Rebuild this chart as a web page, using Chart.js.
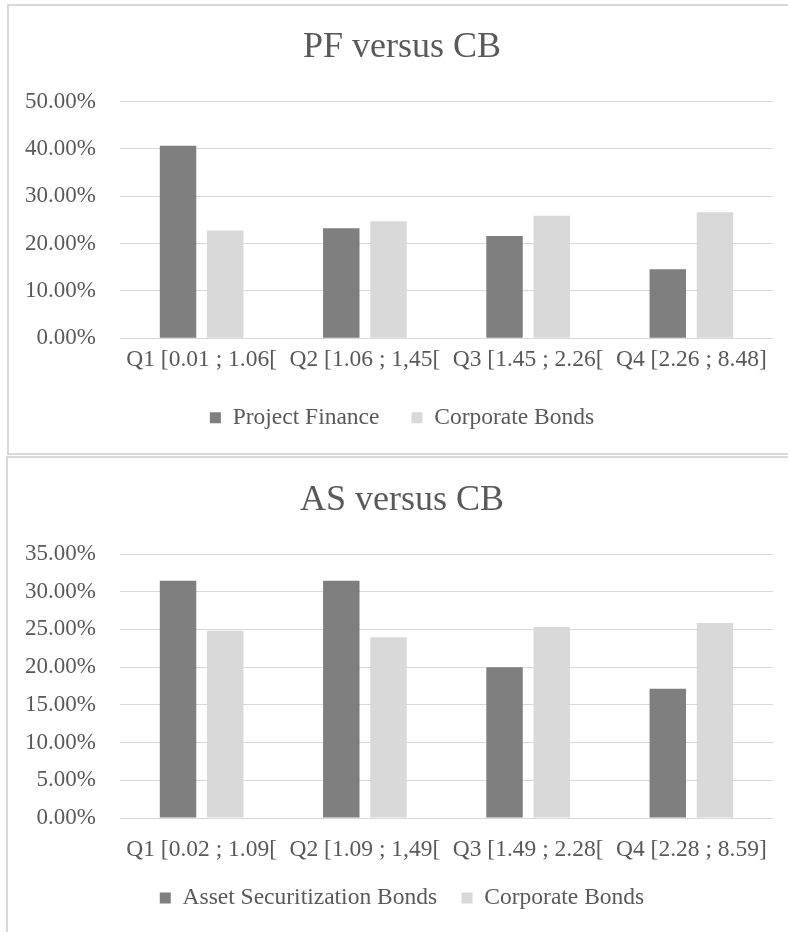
<!DOCTYPE html>
<html>
<head>
<meta charset="utf-8">
<script src="https://cdn.jsdelivr.net/npm/chart.js@4.4.1/dist/chart.umd.min.js"></script>
<style>
    html, body { margin: 0; padding: 0; background: #fff; overflow: hidden; }
    body { width: 788px; height: 932px; position: relative; }
    .frame { position: absolute; border: 2px solid #d9d9d9; box-sizing: border-box; }
    .box { position: absolute; left: 0; width: 804px; }
</style>
</head>
<body>
<div class="frame" style="left:7px; top:4px; width:800px; height:451px;"></div>
<div class="frame" style="left:6px; top:456px; width:800px; height:500px;"></div>
<div class="box" style="top:0; height:455px;"><canvas id="pfChart"></canvas></div>
<div class="box" style="top:455px; height:477px;"><canvas id="asChart"></canvas></div>
<script>
// data (percent)
const pfLabels = ['Q1 [0.01 ; 1.06[', 'Q2 [1.06 ; 1,45[', 'Q3 [1.45 ; 2.26[', 'Q4 [2.26 ; 8.48]'];
const pfProject = [40.66, 23.25, 21.6, 14.6];
const pfCorporate = [22.75, 24.7, 25.9, 26.6];
const pfTicks = { max: 50, step: 10 };

const asLabels = ['Q1 [0.02 ; 1.09[', 'Q2 [1.09 ; 1,49[', 'Q3 [1.49 ; 2.28[', 'Q4 [2.28 ; 8.59]'];
const asSecuritization = [31.47, 31.47, 19.99, 17.15];
const asCorporate = [24.84, 23.97, 25.33, 25.86];
const asTicks = { max: 35, step: 5 };

const FONT = "'Liberation Serif', 'Times New Roman', serif";
const TEXT = '#595959';
const DARK = '#7f7f7f';
const LIGHT = '#d9d9d9';

function makeChart(id, title, labels, names, series, ticks, lay) {
    const ctx = document.getElementById(id).getContext('2d');
    return new Chart(ctx, {
        type: 'bar',
        data: {
            labels: labels,
            datasets: [
                { label: names[0], data: series[0], backgroundColor: DARK, borderWidth: 0 },
                { label: names[1], data: series[1], backgroundColor: LIGHT, borderWidth: 0 }
            ]
        },
        options: {
            responsive: true,
            maintainAspectRatio: false,
            animation: false,
            categoryPercentage: 0.578,
            barPercentage: 0.773,
            layout: { padding: { left: 0, right: 0, top: 0, bottom: lay.bottom } },
            plugins: {
                title: {
                    display: true,
                    text: title,
                    color: TEXT,
                    font: { family: FONT, size: 36, weight: 'normal', lineHeight: 1.2 },
                    padding: { top: lay.titleTop, bottom: lay.titleBottom }
                },
                legend: {
                    position: 'bottom',
                    labels: {
                        color: TEXT,
                        font: { family: FONT, size: 23.5 },
                        boxWidth: 11,
                        boxHeight: 11,
                        padding: lay.legendPad
                    }
                },
                tooltip: { enabled: false }
            },
            scales: {
                x: {
                    grid: { display: false, drawTicks: false },
                    border: { display: false },
                    ticks: {
                        color: TEXT,
                        font: { family: FONT, size: 23.5, lineHeight: lay.xLine },
                        padding: lay.xPad,
                        maxRotation: 0,
                        autoSkip: false
                    },
                    afterFit: function (scale) { scale.height = lay.xPad + 23.5 * lay.xLine; }
                },
                y: {
                    min: 0,
                    max: ticks.max,
                    grid: { color: '#d9d9d9', lineWidth: 1, drawTicks: false },
                    border: { display: false },
                    ticks: {
                        stepSize: ticks.step,
                        color: TEXT,
                        font: { family: FONT, size: 23 },
                        padding: 24,
                        callback: function (value) {
                            return value.toFixed(2) + '%';
                        }
                    },
                    afterFit: function (scale) { scale.width = 120; }
                },
                // empty right-hand space so the title and legend centre like the original
                right: {
                    position: 'right',
                    grid: { display: false, drawTicks: false },
                    border: { display: false },
                    ticks: { display: false },
                    afterFit: function (scale) { scale.width = 31; }
                }
            }
        }
    });
}

makeChart('pfChart', 'PF versus CB', pfLabels, ['Project Finance', 'Corporate Bonds'],
    [pfProject, pfCorporate], pfTicks,
    { bottom: 15.4, titleTop: 25.9, titleBottom: 32.4, xPad: 7.6, xLine: 1.2, legendPad: 32 });

makeChart('asChart', 'AS versus CB', asLabels, ['Asset Securitization Bonds', 'Corporate Bonds'],
    [asSecuritization, asCorporate], asTicks,
    { bottom: 12.25, titleTop: 24.4, titleBottom: 31.4, xPad: 20.25, xLine: 1.0, legendPad: 24.5 });
</script>
</body>
</html>
